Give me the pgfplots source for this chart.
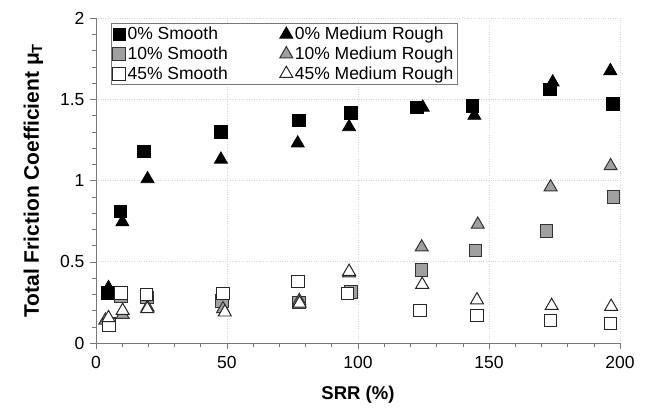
\documentclass[border=0pt]{standalone}
\usepackage{fontspec}
\setmainfont{Liberation Sans}
\usepackage{pgfplots}
\pgfplotsset{compat=1.18}
\definecolor{mgray}{RGB}{160,160,160}
\definecolor{gridc}{RGB}{215,215,215}
\definecolor{axc}{RGB}{120,120,120}
\begin{document}
\begin{tikzpicture}
\begin{axis}[
  scale only axis, width=524bp, height=325bp,
  xmin=0, xmax=200, ymin=0, ymax=2,
  xtick={0,50,...,200}, ytick={0,0.5,...,2},
  minor x tick num=4, minor y tick num=4,
  axis x line*=bottom, axis y line*=left,
  axis line style={axc, line width=0.8pt, -},
  tick align=outside,
  major tick length=6bp, minor tick length=4bp,
  every tick/.style={axc, line width=0.6pt},
  grid=major,
  major grid style={gridc, dotted, line width=0.8pt},
  /pgf/number format/assume math mode=true,
  tick label style={font=\fontsize{17.5bp}{21bp}\selectfont},
  xticklabel style={yshift=-4bp},
  yticklabel style={xshift=-2bp},
  xlabel={\textbf{SRR (\%)}},
  ylabel={\textbf{Total Friction Coefficient μ\textsubscript{T}}},
  xlabel style={font=\fontsize{18.5bp}{22bp}\selectfont, yshift=-10bp},
  ylabel style={font=\fontsize{21bp}{24bp}\selectfont, yshift=10bp},
  legend columns=2,
  legend cell align=left,
  legend style={at={(axis description cs:0.028,0.985)}, anchor=north west, draw=axc, line width=0.8pt,
    font=\fontsize{17.5bp}{19bp}\selectfont, inner xsep=2bp, inner ysep=2bp,
    row sep=1.5bp},
  /tikz/every even column/.append style={column sep=50bp},
  legend image code/.code={\draw[#1] plot coordinates {(3bp,0bp)};},
  clip=false,
]
\addplot[only marks, mark=square*, mark size=6.3bp, mark options={fill=black, draw=black, line width=0.8pt}]
  coordinates {(4.6,0.31) (9.4,0.81) (18.3,1.18) (47.8,1.30) (77.4,1.37) (97.3,1.415) (122.4,1.45) (143.6,1.46) (173.2,1.56) (197.2,1.47)};
\addlegendentry{0\% Smooth}
\addplot[only marks, mark=triangle*, mark size=7.5bp, mark options={fill=black, draw=black, line width=0.8pt}]
  coordinates {(4.8,0.34) (10.1,0.745) (19.7,1.01) (47.7,1.13) (77.0,1.23) (96.6,1.33) (124.7,1.45) (144.4,1.40) (174.3,1.605) (196.3,1.675)};
\addlegendentry{0\% Medium Rough}
\addplot[only marks, mark=square*, mark size=6.3bp, mark options={fill=mgray, draw=black!80, line width=1pt}]
  coordinates {(5.0,0.12) (9.6,0.29) (19.5,0.28) (48.0,0.26) (77.5,0.25) (97.3,0.315) (124.2,0.45) (144.9,0.57) (172.0,0.69) (197.5,0.90)};
\addlegendentry{10\% Smooth}
\addplot[only marks, mark=triangle*, mark size=7.5bp, mark options={fill=mgray, draw=black!80, line width=1pt}]
  coordinates {(3.6,0.14) (10.2,0.175) (19.7,0.22) (48.5,0.21) (77.6,0.26) (96.6,0.43) (124.3,0.59) (145.7,0.73) (173.5,0.96) (196.4,1.09)};
\addlegendentry{10\% Medium Rough}
\addplot[only marks, mark=square*, mark size=6.3bp, mark options={fill=white, draw=black!85, line width=1pt}]
  coordinates {(5.1,0.11) (9.5,0.31) (19.3,0.30) (48.6,0.305) (77.2,0.38) (96.0,0.305) (123.7,0.20) (145.5,0.17) (173.5,0.14) (196.3,0.12)};
\addlegendentry{45\% Smooth}
\addplot[only marks, mark=triangle*, mark size=7.5bp, mark options={fill=white, draw=black!85, line width=1pt}]
  coordinates {(4.8,0.155) (10.2,0.20) (19.6,0.21) (49.2,0.19) (77.7,0.245) (96.6,0.44) (124.5,0.36) (145.4,0.265) (173.9,0.23) (196.6,0.225)};
\addlegendentry{45\% Medium Rough}
\coordinate (bl) at (axis cs:-36.6,-0.412);
\coordinate (tr) at (axis cs:209.9,2.111);
\end{axis}
\pgfresetboundingbox
\path (bl) rectangle (tr);
\end{tikzpicture}
\end{document}
